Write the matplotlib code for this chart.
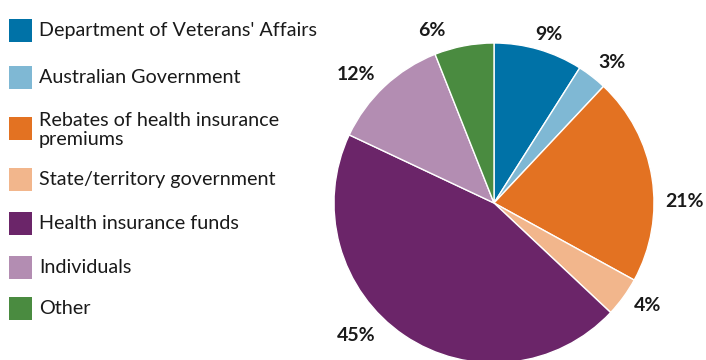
import matplotlib.pyplot as plt
from matplotlib.patches import Rectangle

plt.rcParams['font.family'] = ['Lato', 'DejaVu Sans']

# Funding sources, share of total (%)
sources = ["Department of Veterans' Affairs", 'Australian Government',
           'Rebates of health insurance\npremiums', 'State/territory government',
           'Health insurance funds', 'Individuals', 'Other']
shares = [9, 3, 21, 4, 45, 12, 6]
colors = ['#0072a7', '#7fb8d4', '#e37222', '#f2b68c', '#6b2569', '#b38db2', '#4a8b40']

# where each percentage label sits, in pie radius units
label_pos = [(0.34, 1.05), (0.74, 0.88), (1.19, 0.01), (0.96, -0.64),
             (-0.86, -0.83), (-0.86, 0.80), (-0.39, 1.08)]

W, H = 706, 360
fig = plt.figure(figsize=(W / 100, H / 100), dpi=100)

# pie: centre at (494, 203) px, radius 160 px
cx, cy, r = 494, 203, 160
ax = fig.add_axes([(cx - r) / W, (H - cy - r) / H, 2 * r / W, 2 * r / H])
wedges, texts = ax.pie(shares, colors=colors, startangle=90, counterclock=False,
                       labels=[f'{s}%' for s in shares],
                       wedgeprops=dict(edgecolor='white', linewidth=1),
                       textprops=dict(fontsize=14, fontweight='bold', color='#1a1a1a'))
for t, p in zip(texts, label_pos):
    t.set_position(p)
    t.set_ha('center')
    t.set_va('center')
ax.set_xlim(-1, 1)
ax.set_ylim(-1, 1)
ax.set_aspect('equal')

# legend drawn by hand in pixel coordinates
lax = fig.add_axes([0, 0, 1, 1])
lax.set_xlim(0, W)
lax.set_ylim(H, 0)
lax.axis('off')
lax.patch.set_alpha(0)
rows_y = [30.5, 77.5, 128, 179.5, 223.5, 267.5, 308.5]
for y, lab, c in zip(rows_y, sources, colors):
    lax.add_patch(Rectangle((9, y - 11.5), 23, 23, color=c, lw=0))
    lax.text(39, y + (0 if '\n' not in lab else 2), lab, fontsize=14.2, color='#1a1a1a',
             va='center', ha='left', linespacing=1.12)

fig.savefig('out.png', dpi=100)
